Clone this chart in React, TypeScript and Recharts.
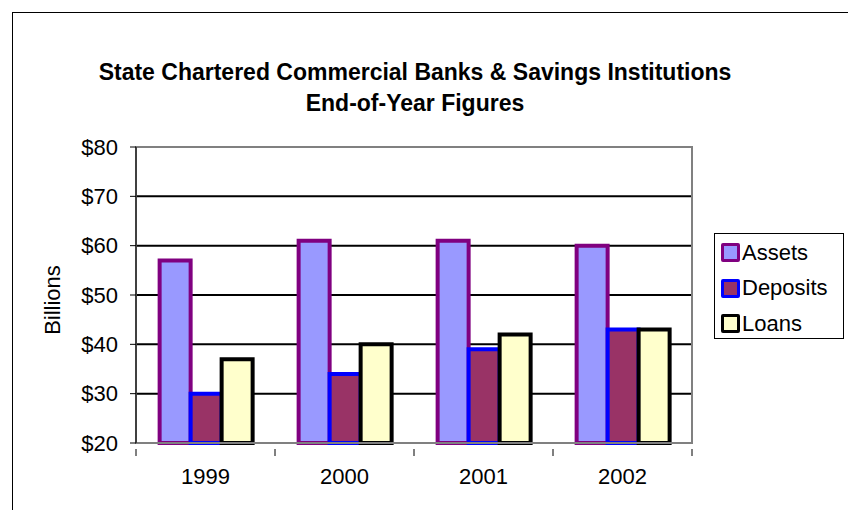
import { BarChart, Bar, XAxis, YAxis, CartesianGrid, ReferenceArea } from 'recharts';

const years = ['1999', '2000', '2001', '2002'];
const assets = [57, 61, 61, 60];
const deposits = [30, 34, 39, 43];
const loans = [37, 40, 42, 43];
const yTicks = [20, 30, 40, 50, 60, 70, 80];

const series = [
  { key: 'assets', name: 'Assets', fill: '#9999FF', stroke: '#800080' },
  { key: 'deposits', name: 'Deposits', fill: '#993366', stroke: '#0000FF' },
  { key: 'loans', name: 'Loans', fill: '#FFFFCC', stroke: '#000000' },
];

const data = years.map((year, i) => ({
  year,
  assets: assets[i],
  deposits: deposits[i],
  loans: loans[i],
}));

const font = 'Arial, "Liberation Sans", sans-serif';
const PLOT_W = 556;
const BAND = PLOT_W / years.length;

function XTick(props: any) {
  const { x, y, payload, index } = props;
  return (
    <g>
      <line x1={x - BAND / 2} x2={x - BAND / 2} y1={y - 2} y2={y + 5} stroke="#000" />
      {index === years.length - 1 && (
        <line x1={x + BAND / 2} x2={x + BAND / 2} y1={y - 2} y2={y + 5} stroke="#000" />
      )}
      <text x={x} y={y + 33} textAnchor="middle" fontSize={22} fontFamily={font} fill="#000">
        {payload.value}
      </text>
    </g>
  );
}

function LegendBox() {
  return (
    <div
      style={{
        position: 'absolute',
        left: 714,
        top: 233,
        border: '1px solid #000',
        width: 130,
        height: 106,
        boxSizing: 'border-box',
        padding: '1px 0 0 6px',
        fontFamily: font,
        fontSize: 22,
        background: '#fff',
      }}
    >
      {series.map((s) => (
        <div key={s.key} style={{ display: 'flex', alignItems: 'center', height: 35.5 }}>
          <span
            style={{
              display: 'inline-block',
              width: 13,
              height: 13,
              background: s.fill,
              border: `3px solid ${s.stroke}`,
              borderRadius: 2,
              marginRight: 2,
            }}
          />
          <span>{s.name}</span>
        </div>
      ))}
    </div>
  );
}

export default function App() {
  return (
    <div style={{ position: 'absolute', left: 0, top: 0, width: 848, height: 510, overflow: 'hidden', background: '#fff' }}>
      <div
        style={{
          position: 'absolute',
          left: 12,
          top: 12,
          width: 900,
          height: 600,
          border: '1px solid #000',
        }}
      />
      <div
        style={{
          position: 'absolute',
          left: 0,
          width: 830,
          top: 57,
          textAlign: 'center',
          fontFamily: font,
          fontWeight: 'bold',
          fontSize: 23,
          lineHeight: '31px',
        }}
      >
        State Chartered Commercial Banks &amp; Savings Institutions
        <br />
        End-of-Year Figures
      </div>
      <div
        style={{
          position: 'absolute',
          left: 53,
          top: 300,
          transform: 'translate(-50%, -50%) rotate(-90deg)',
          fontFamily: font,
          fontSize: 22,
          whiteSpace: 'nowrap',
        }}
      >
        Billions
      </div>
      <div style={{ position: 'absolute', left: 0, top: 0 }}>
        <BarChart
          width={848}
          height={510}
          data={data}
          margin={{ top: 147, right: 156, bottom: 27, left: 56 }}
          barCategoryGap="17%"
          barGap={0}
        >
          <CartesianGrid vertical={false} stroke="#000" strokeWidth={2} />
          <ReferenceArea y1={20} y2={80} fill="none" stroke="#808080" strokeWidth={2} />
          <XAxis
            dataKey="year"
            height={40}
            axisLine={{ stroke: '#808080', strokeWidth: 2 }}
            tickLine={false}
            tick={<XTick />}
            interval={0}
          />
          <YAxis
            width={80}
            domain={[20, 80]}
            ticks={yTicks}
            interval={0}
            axisLine={{ stroke: '#000', strokeWidth: 1 }}
            tickLine={{ stroke: '#000' }}
            tickSize={6}
            tickMargin={12}
            tickFormatter={(v) => `$${v}`}
            tick={{ fill: '#000', fontSize: 22, fontFamily: font }}
          />
          {series.map((s) => (
            <Bar
              key={s.key}
              dataKey={s.key}
              name={s.name}
              fill={s.fill}
              stroke={s.stroke}
              strokeWidth={4}
              isAnimationActive={false}
            />
          ))}
        </BarChart>
      </div>
      <LegendBox />
    </div>
  );
}
